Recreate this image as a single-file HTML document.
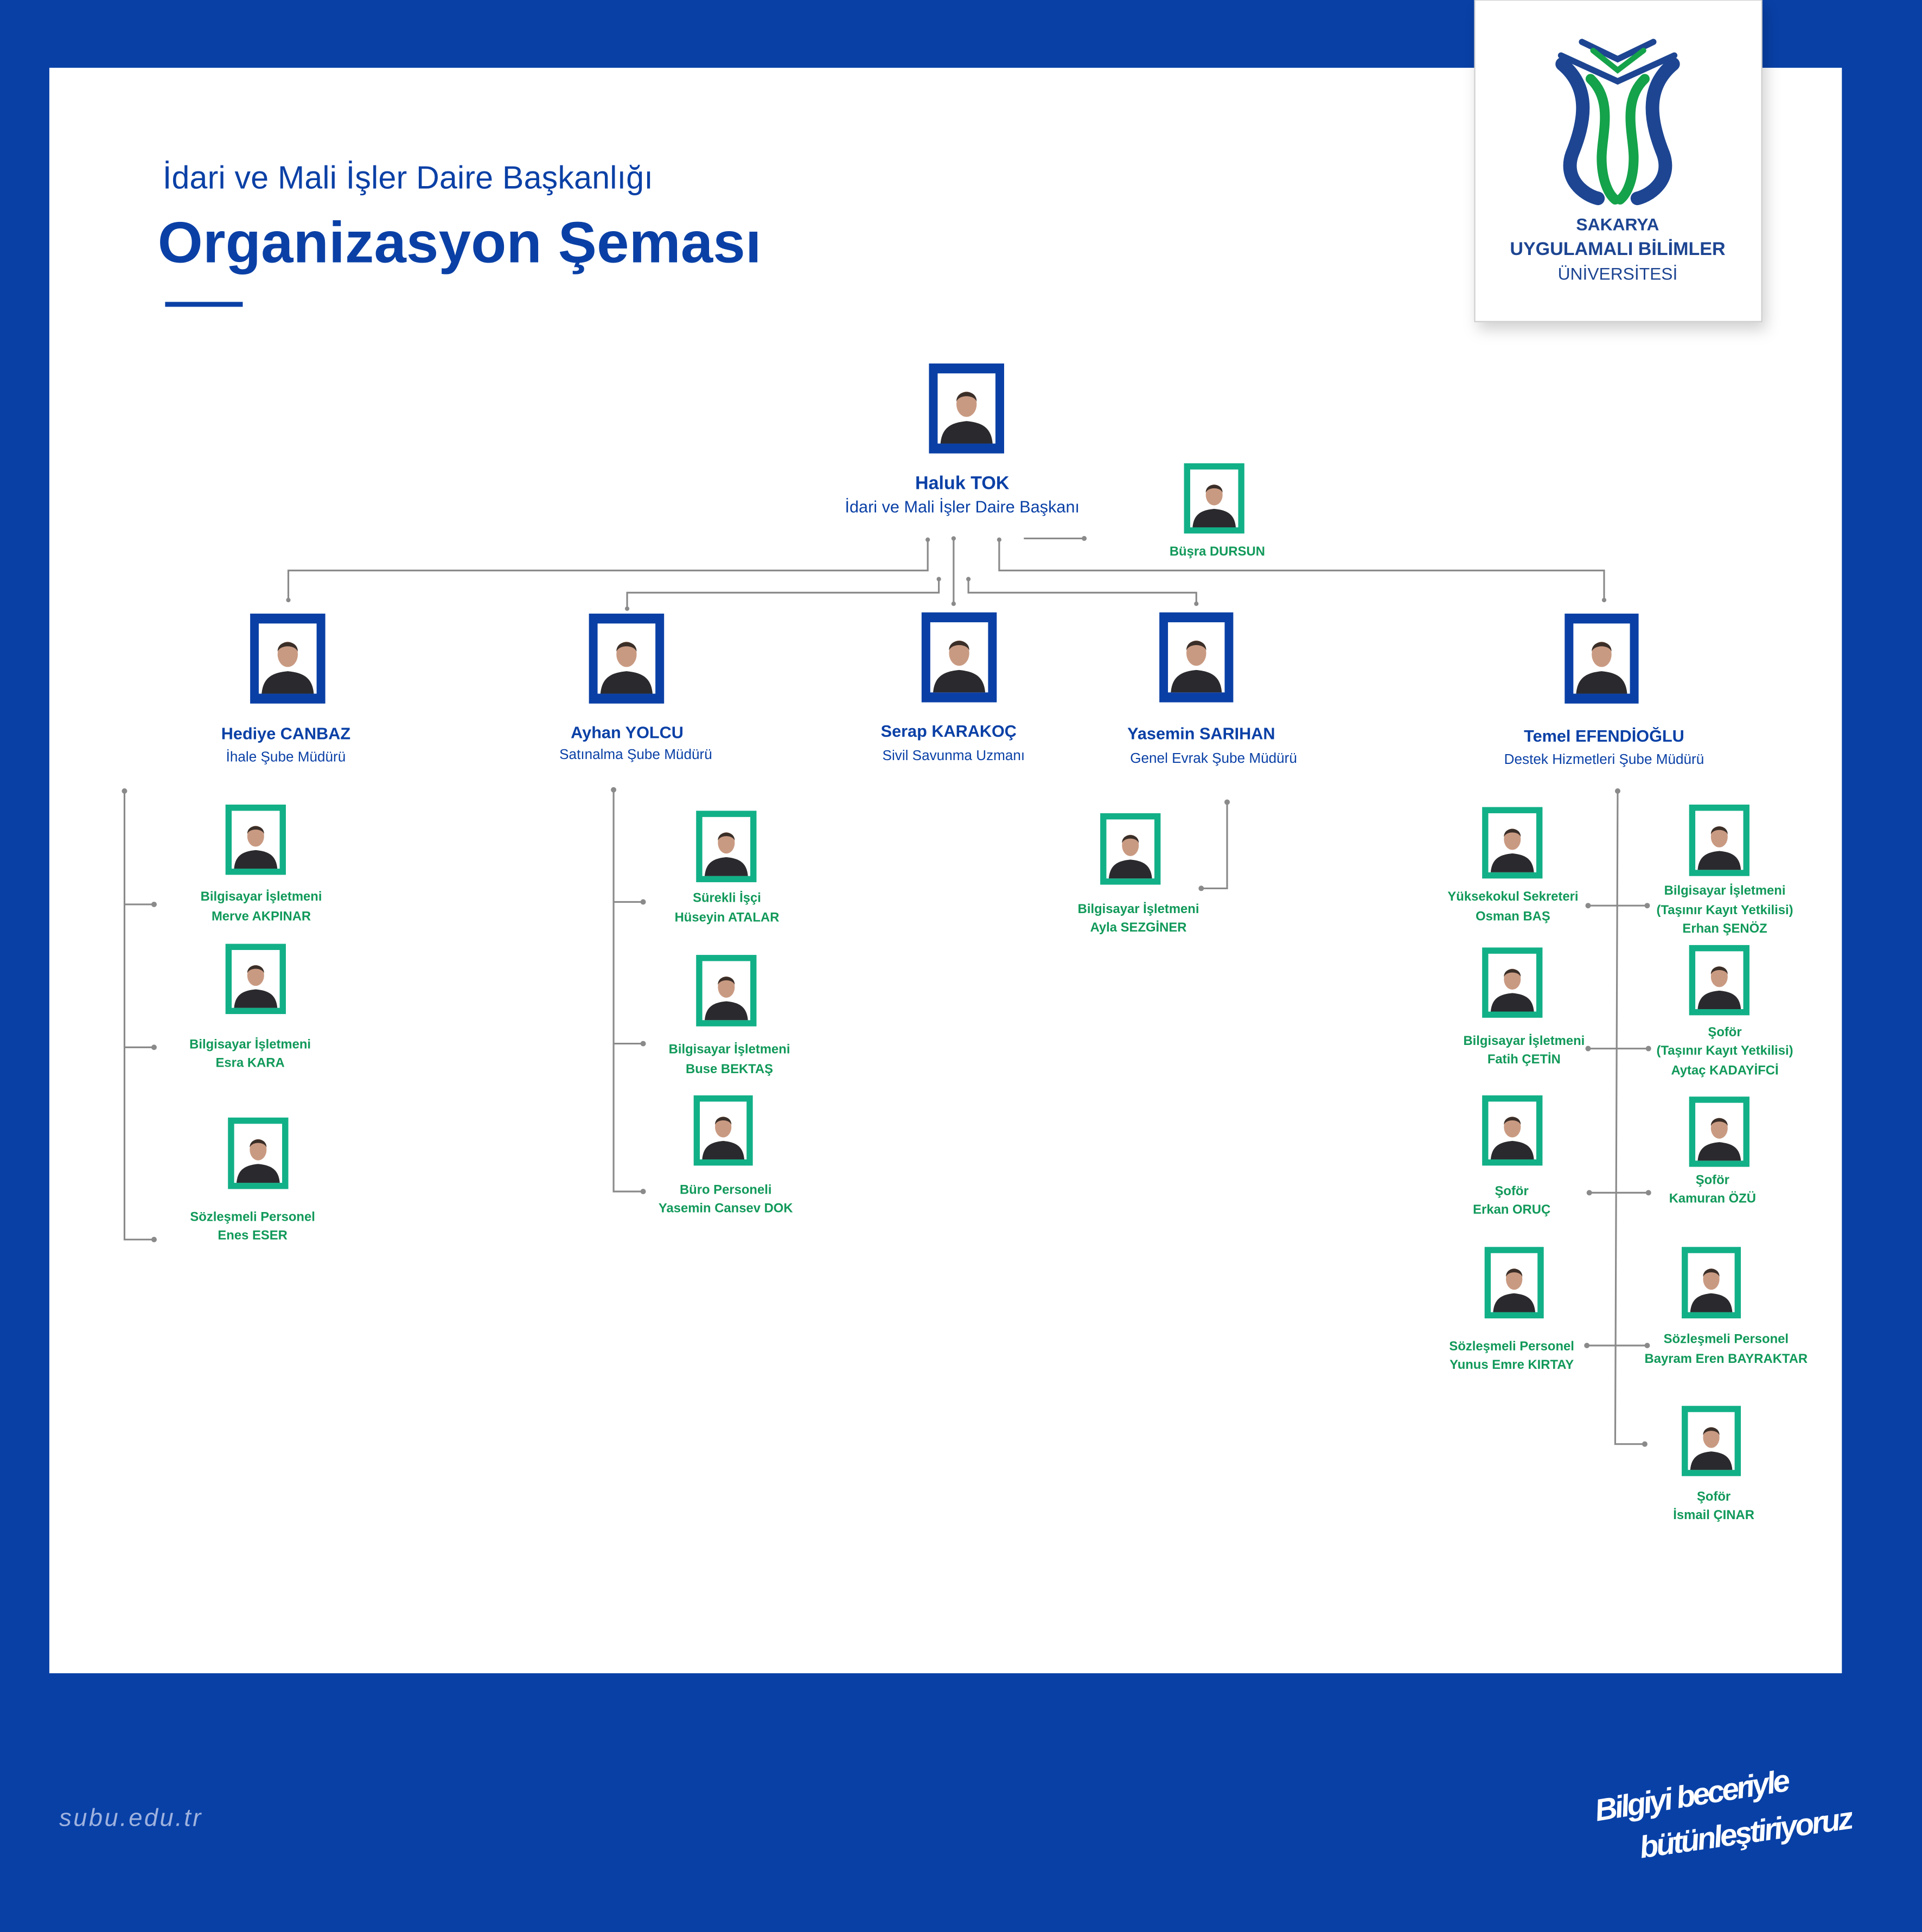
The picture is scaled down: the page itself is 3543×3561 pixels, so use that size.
<!DOCTYPE html>
<html><head><meta charset="utf-8"><style>
html,body{margin:0;padding:0;background:#0840a6;}
svg{display:block}
</style></head><body>
<svg xmlns="http://www.w3.org/2000/svg" xmlns:xlink="http://www.w3.org/1999/xlink" width="3543" height="3561" viewBox="0 0 1560 1568" font-family="'Liberation Sans', sans-serif">
<defs>
<symbol id="p" viewBox="0 0 40 50" preserveAspectRatio="none">
<rect width="40" height="50" fill="#fff"/>
<path d="M2 50 C3 38 10 35 20 34 C30 35 37 38 38 50 Z" fill="#2a2a2e"/>
<ellipse cx="20" cy="22" rx="7" ry="9" fill="#c99a82"/>
<path d="M13 20 C13 11 27 11 27 20 C25 15 15 15 13 20Z" fill="#3a2e28"/>
</symbol>
<filter id="sh" x="-20%" y="-20%" width="140%" height="140%"><feDropShadow dx="3" dy="6" stdDeviation="6" flood-color="#000" flood-opacity="0.18"/></filter>
</defs>
<rect width="1560" height="1568" fill="#0840a6"/>
<rect x="40" y="55" width="1455" height="1303" fill="#fff"/>
<!-- logo box -->
<rect x="1197" y="0" width="233" height="261" fill="#fff" stroke="#cfcfcf" stroke-width="1" filter="url(#sh)"/>
<g fill="none" stroke-linecap="round">
<polyline points="1284,34 1313,48 1342,34" stroke="#1d4592" stroke-width="5"/>
<polyline points="1293,41 1313,57 1334,41" stroke="#14a24a" stroke-width="4.5"/>
<polyline points="1267,45 1313,66 1359,45" stroke="#1d4592" stroke-width="5"/>
<path d="M1268 52 C1292 72 1286 100 1276 125 C1269 145 1285 158 1297 161" stroke="#1d4592" stroke-width="11"/>
<path d="M1358 52 C1334 72 1340 100 1350 125 C1357 145 1341 158 1329 161" stroke="#1d4592" stroke-width="11"/>
<path d="M1291 64 C1310 82 1300 110 1300 128 C1300 145 1305 157 1311 162" stroke="#14a24a" stroke-width="8"/>
<path d="M1335 64 C1316 82 1326 110 1326 128 C1326 145 1321 157 1315 162" stroke="#14a24a" stroke-width="8"/>
</g>
<g fill="#1d4592" font-weight="bold" text-anchor="middle">
<text x="1313" y="187" font-size="14">SAKARYA</text>
<text x="1313" y="207" font-size="15">UYGULAMALI BİLİMLER</text>
<text x="1313" y="227" font-size="14" font-weight="normal">ÜNİVERSİTESİ</text>
</g>
<!-- title -->
<text x="132" y="153" font-size="26" fill="#0a40a6" textLength="398">İdari ve Mali İşler Daire Başkanlığı</text>
<text x="128" y="213" font-size="47" font-weight="bold" fill="#0a40a6" textLength="490">Organizasyon Şeması</text>
<rect x="134" y="245" width="63" height="4" fill="#0a40a6"/>
<!-- connectors -->
<g stroke="#8a8a8a" stroke-width="1.4" fill="none">
<polyline points="753,438 753,463 234,463 234,487"/>
<polyline points="762,470 762,481 509,481 509,494"/>
<polyline points="774,437 774,490"/>
<polyline points="786,470 786,481 971,481 971,490"/>
<polyline points="811,438 811,463 1302,463 1302,487"/>
<polyline points="831,437 880,437"/>
<polyline points="101,642 101,1006 125,1006"/><line x1="101" y1="734" x2="125" y2="734"/><line x1="101" y1="850" x2="125" y2="850"/>
<polyline points="498,641 498,967 522,967"/><line x1="498" y1="732" x2="522" y2="732"/><line x1="498" y1="847" x2="522" y2="847"/>
<polyline points="996,651 996,721 975,721"/>
<polyline points="1313,642 1311,1172 1335,1172"/>
<line x1="1289" y1="735" x2="1337" y2="735"/><line x1="1289" y1="851" x2="1338" y2="851"/><line x1="1290" y1="968" x2="1338" y2="968"/><line x1="1288" y1="1092" x2="1337" y2="1092"/>
</g>
<g fill="#8a8a8a">
<circle cx="753" cy="438" r="1.8"/><circle cx="762" cy="470" r="1.8"/><circle cx="774" cy="437" r="1.8"/><circle cx="786" cy="470" r="1.8"/><circle cx="811" cy="438" r="1.8"/><circle cx="880" cy="437" r="2"/>
<circle cx="234" cy="487" r="1.8"/><circle cx="509" cy="494" r="1.8"/><circle cx="774" cy="490" r="1.8"/><circle cx="971" cy="490" r="1.8"/><circle cx="1302" cy="487" r="1.8"/>
<circle cx="101" cy="642" r="2.2"/><circle cx="125" cy="734" r="2.2"/><circle cx="125" cy="850" r="2.2"/><circle cx="125" cy="1006" r="2.2"/>
<circle cx="498" cy="641" r="2.2"/><circle cx="522" cy="732" r="2.2"/><circle cx="522" cy="847" r="2.2"/><circle cx="522" cy="967" r="2.2"/>
<circle cx="996" cy="651" r="2.2"/><circle cx="975" cy="721" r="2.2"/>
<circle cx="1313" cy="642" r="2.2"/><circle cx="1335" cy="1172" r="2.2"/>
<circle cx="1289" cy="735" r="2.2"/><circle cx="1337" cy="735" r="2.2"/><circle cx="1289" cy="851" r="2.2"/><circle cx="1338" cy="851" r="2.2"/><circle cx="1290" cy="968" r="2.2"/><circle cx="1338" cy="968" r="2.2"/><circle cx="1288" cy="1092" r="2.2"/><circle cx="1337" cy="1092" r="2.2"/>
</g>
<!-- blue frames -->
<g fill="#0a40a6">
<rect x="754" y="295" width="61" height="73"/><rect x="203" y="498" width="61" height="73"/><rect x="478" y="498" width="61" height="73"/><rect x="748" y="497" width="61" height="73"/><rect x="941" y="497" width="60" height="73"/><rect x="1270" y="498" width="60" height="73"/>
</g>
<use href="#p" x="761" y="303" width="47" height="57"/>
<use href="#p" x="210" y="506" width="47" height="57"/>
<use href="#p" x="485" y="506" width="47" height="57"/>
<use href="#p" x="755" y="505" width="47" height="57"/>
<use href="#p" x="948" y="505" width="46" height="57"/>
<use href="#p" x="1277" y="506" width="46" height="57"/>
<!-- green frames -->
<g fill="#12b087">
<rect x="961" y="376" width="49" height="57"/>
<rect x="183" y="653" width="49" height="57"/><rect x="183" y="766" width="49" height="57"/><rect x="185" y="907" width="49" height="58"/>
<rect x="565" y="658" width="49" height="58"/><rect x="565" y="775" width="49" height="58"/><rect x="563" y="889" width="48" height="57"/>
<rect x="893" y="660" width="49" height="58"/>
<rect x="1203" y="655" width="49" height="58"/><rect x="1203" y="769" width="49" height="57"/><rect x="1203" y="889" width="49" height="57"/><rect x="1205" y="1012" width="48" height="58"/>
<rect x="1371" y="653" width="49" height="58"/><rect x="1371" y="767" width="49" height="57"/><rect x="1371" y="890" width="49" height="57"/><rect x="1365" y="1012" width="48" height="58"/><rect x="1365" y="1141" width="48" height="57"/>
</g>
<use href="#p" x="966" y="381" width="39" height="47"/>
<use href="#p" x="188" y="658" width="39" height="47"/><use href="#p" x="188" y="771" width="39" height="47"/><use href="#p" x="190" y="912" width="39" height="48"/>
<use href="#p" x="570" y="663" width="39" height="48"/><use href="#p" x="570" y="780" width="39" height="48"/><use href="#p" x="568" y="894" width="38" height="47"/>
<use href="#p" x="898" y="665" width="39" height="48"/>
<use href="#p" x="1208" y="660" width="39" height="48"/><use href="#p" x="1208" y="774" width="39" height="47"/><use href="#p" x="1208" y="894" width="39" height="47"/><use href="#p" x="1210" y="1017" width="38" height="48"/>
<use href="#p" x="1376" y="658" width="39" height="48"/><use href="#p" x="1376" y="772" width="39" height="47"/><use href="#p" x="1376" y="895" width="39" height="47"/><use href="#p" x="1370" y="1017" width="38" height="48"/><use href="#p" x="1370" y="1146" width="38" height="47"/>
<!-- blue labels -->
<g fill="#0a40a6" text-anchor="middle">
<text x="781" y="397" font-size="15" font-weight="bold">Haluk TOK</text>
<text x="781" y="416" font-size="13.5">İdari ve Mali İşler Daire Başkanı</text>
<text x="232" y="600" font-size="13.5" font-weight="bold">Hediye CANBAZ</text>
<text x="232" y="618" font-size="11.5">İhale Şube Müdürü</text>
<text x="509" y="599" font-size="13.5" font-weight="bold">Ayhan YOLCU</text>
<text x="516" y="616" font-size="11.5">Satınalma Şube Müdürü</text>
<text x="770" y="598" font-size="13.5" font-weight="bold">Serap KARAKOÇ</text>
<text x="774" y="617" font-size="11.5">Sivil Savunma Uzmanı</text>
<text x="975" y="600" font-size="13.5" font-weight="bold">Yasemin SARIHAN</text>
<text x="985" y="619" font-size="11.5">Genel Evrak Şube Müdürü</text>
<text x="1302" y="602" font-size="13.5" font-weight="bold">Temel EFENDİOĞLU</text>
<text x="1302" y="620" font-size="11.5">Destek Hizmetleri Şube Müdürü</text>
</g>
<!-- green labels -->
<g fill="#11995a" text-anchor="middle" font-size="10.5" font-weight="bold">
<text x="988" y="451">Büşra DURSUN</text>
<text x="212" y="731">Bilgisayar İşletmeni</text><text x="212" y="747">Merve AKPINAR</text>
<text x="203" y="851">Bilgisayar İşletmeni</text><text x="203" y="866">Esra KARA</text>
<text x="205" y="991">Sözleşmeli Personel</text><text x="205" y="1006">Enes ESER</text>
<text x="590" y="732">Sürekli İşçi</text><text x="590" y="748">Hüseyin ATALAR</text>
<text x="592" y="855">Bilgisayar İşletmeni</text><text x="592" y="871">Buse BEKTAŞ</text>
<text x="589" y="969">Büro Personeli</text><text x="589" y="984">Yasemin Cansev DOK</text>
<text x="924" y="741">Bilgisayar İşletmeni</text><text x="924" y="756">Ayla SEZGİNER</text>
<text x="1228" y="731">Yüksekokul Sekreteri</text><text x="1228" y="747">Osman BAŞ</text>
<text x="1237" y="848">Bilgisayar İşletmeni</text><text x="1237" y="863">Fatih ÇETİN</text>
<text x="1227" y="970">Şoför</text><text x="1227" y="985">Erkan ORUÇ</text>
<text x="1227" y="1096">Sözleşmeli Personel</text><text x="1227" y="1111">Yunus Emre KIRTAY</text>
<text x="1400" y="726">Bilgisayar İşletmeni</text><text x="1400" y="742">(Taşınır Kayıt Yetkilisi)</text><text x="1400" y="757">Erhan ŞENÖZ</text>
<text x="1400" y="841">Şoför</text><text x="1400" y="856">(Taşınır Kayıt Yetkilisi)</text><text x="1400" y="872">Aytaç KADAYİFCİ</text>
<text x="1390" y="961">Şoför</text><text x="1390" y="976">Kamuran ÖZÜ</text>
<text x="1401" y="1090">Sözleşmeli Personel</text><text x="1401" y="1106">Bayram Eren BAYRAKTAR</text>
<text x="1391" y="1218">Şoför</text><text x="1391" y="1233">İsmail ÇINAR</text>
</g>
<!-- footer -->
<text x="48" y="1482" font-size="20" font-style="italic" fill="#9fb2de" letter-spacing="1.5">subu.edu.tr</text>
<g fill="#fff" font-style="italic" font-weight="bold" font-size="25">
<text x="1296" y="1478" transform="rotate(-9 1296 1478)" textLength="160">Bilgiyi beceriyle</text>
<text x="1332" y="1508" transform="rotate(-8 1332 1508)" textLength="175">bütünleştiriyoruz</text>
</g>
</svg>
</body></html>
